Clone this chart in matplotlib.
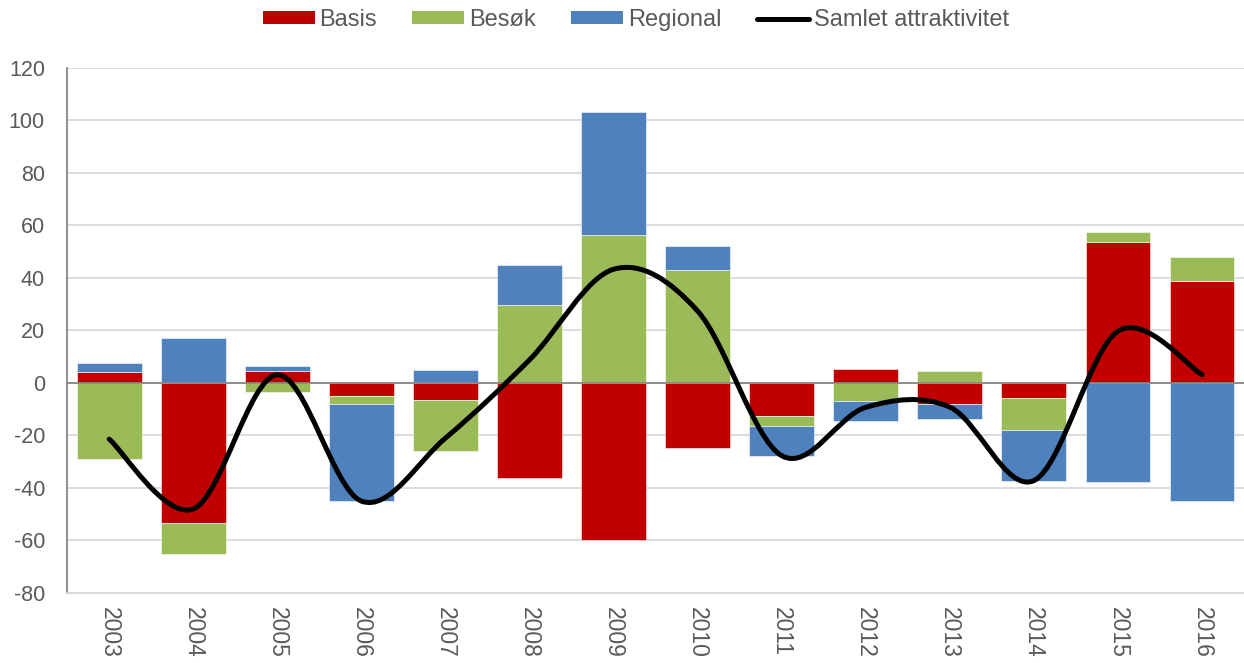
import numpy as np
import matplotlib
matplotlib.use("Agg")
import matplotlib.pyplot as plt
from matplotlib.path import Path
from matplotlib.patches import PathPatch, Patch
from matplotlib.lines import Line2D

years = ["2003", "2004", "2005", "2006", "2007", "2008", "2009",
         "2010", "2011", "2012", "2013", "2014", "2015", "2016"]
basis = [4.2, -53.3, 4.6, -5.0, -6.5, -36.2, -59.8, -24.9, -12.7, 5.2, -8.0, -5.8, 53.8, 38.9]
besok = [-29.0, -11.8, -3.4, -3.0, -19.5, 29.7, 56.4, 43.0, -3.6, -6.9, 4.6, -12.1, 3.7, 9.1]
regional = [3.4, 17.1, 1.9, -37.0, 5.0, 15.3, 46.7, 9.3, -11.4, -7.6, -5.8, -19.3, -37.8, -44.8]

series = [("Basis", basis, "#C00000"),
          ("Besøk", besok, "#9BBB59"),
          ("Regional", regional, "#4F81BD")]

plt.rcParams['font.family'] = ['Liberation Sans', 'DejaVu Sans']
plt.rcParams['axes.unicode_minus'] = False

fig = plt.figure(figsize=(12.44, 6.63), dpi=100)
ax = fig.add_axes([0.054, 0.1056, 0.946, 0.792])

x = np.arange(len(years))
pos_base = np.zeros(len(years))
neg_base = np.zeros(len(years))
for name, vals, col in series:
    v = np.array(vals)
    bottom = np.where(v >= 0, pos_base, neg_base)
    ax.bar(x, v, width=0.77, bottom=bottom, color=col, edgecolor="white",
           linewidth=0.4, zorder=2)
    pos_base += np.where(v >= 0, v, 0)
    neg_base += np.where(v < 0, v, 0)

# smoothed total line (Catmull-Rom style bezier, like Excel's smoothed line)
total = np.array(basis) + np.array(besok) + np.array(regional)
pts = np.column_stack([x, total])
ext = np.vstack([pts[0], pts, pts[-1]])
verts = [tuple(pts[0])]
codes = [Path.MOVETO]
for i in range(len(pts) - 1):
    p0, p1, p2, p3 = ext[i], ext[i + 1], ext[i + 2], ext[i + 3]
    c1 = p1 + (p2 - p0) / 6.0
    c2 = p2 - (p3 - p1) / 6.0
    verts += [tuple(c1), tuple(c2), tuple(p2)]
    codes += [Path.CURVE4] * 3
ax.add_patch(PathPatch(Path(verts, codes), fill=False, edgecolor="black",
                       linewidth=3.6, capstyle="round", joinstyle="round", zorder=3))

ax.set_xlim(-0.5, len(years) - 0.5)
ax.set_ylim(-80, 120)
ax.set_yticks(np.arange(-80, 121, 20))
ax.set_xticks(x)
ax.set_xticklabels(years, rotation=270, va="top", ha="center")
ax.tick_params(axis="both", length=0, colors="#595959")
ax.tick_params(axis="y", pad=16, labelsize=15.5)
ax.tick_params(axis="x", pad=10, labelsize=16.5)
ax.grid(axis="y", color="#d9d9d9", linewidth=1.3, zorder=0)
ax.set_axisbelow(True)
ax.axhline(0, color="#868686", linewidth=1.3, zorder=2.5)
for s in ["top", "right"]:
    ax.spines[s].set_visible(False)
ax.spines["left"].set_color("#868686")
ax.spines["left"].set_linewidth(1.3)
ax.spines["bottom"].set_color("#d9d9d9")
ax.spines["bottom"].set_linewidth(1.3)

handles = [Patch(facecolor=c, label=n) for n, _, c in series]
handles.append(Line2D([0], [0], color="black", linewidth=3.6,
                      solid_capstyle="round", label="Samlet attraktivitet"))
fig.legend(handles=handles, loc="upper center", bbox_to_anchor=(0.511, 1.018), ncol=4,
           frameon=False, fontsize=17, labelcolor="#595959", handlelength=2.2,
           handleheight=0.47, handletextpad=0.2, columnspacing=1.5)

fig.savefig("out.png", dpi=100)
